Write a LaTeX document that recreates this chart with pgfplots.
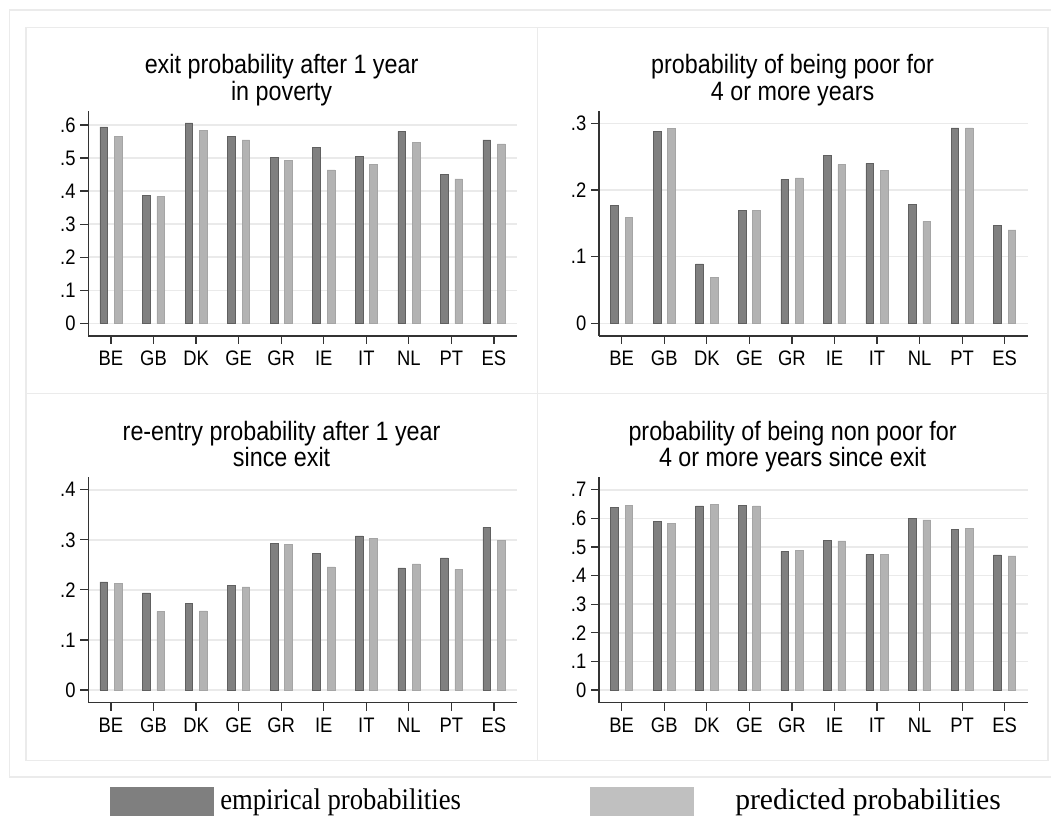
\documentclass[border=0pt]{standalone}
\usepackage{pgfplots}
\pgfplotsset{compat=1.18}
\usepackage{fontspec}
\setmainfont{Liberation Sans}
\newfontfamily\seriffont{Liberation Serif}
\usepackage{graphicx}
\definecolor{darkbar}{HTML}{808080}
\definecolor{darkedge}{HTML}{606060}
\definecolor{lightbar}{HTML}{B3B3B3}
\definecolor{lightedge}{HTML}{A5A5A5}
\definecolor{legdark}{HTML}{7F7F7F}
\definecolor{leglight}{HTML}{C0C0C0}
\definecolor{gridc}{HTML}{EAEAEA}
\definecolor{framec}{HTML}{EBEBEB}
\definecolor{axisc}{HTML}{333333}
\newcommand\vs[1]{\scalebox{1}[1.14]{#1}}
\newcommand\tickfont{\fontsize{13.8}{13.8}\selectfont}
\newcommand\titlefont{\fontsize{17.5}{17.5}\selectfont}

\pgfplotstableread{
x emp pred
0 0.594 0.566
1 0.388 0.384
2 0.606 0.584
3 0.566 0.555
4 0.502 0.494
5 0.533 0.464
6 0.506 0.481
7 0.581 0.548
8 0.450 0.437
9 0.555 0.543
}\tabTL
\pgfplotstableread{
x emp pred
0 0.177 0.159
1 0.288 0.292
2 0.089 0.069
3 0.169 0.169
4 0.216 0.218
5 0.252 0.238
6 0.240 0.229
7 0.178 0.153
8 0.293 0.293
9 0.147 0.140
}\tabTR
\pgfplotstableread{
x emp pred
0 0.216 0.213
1 0.194 0.157
2 0.173 0.158
3 0.209 0.206
4 0.293 0.291
5 0.273 0.246
6 0.308 0.303
7 0.244 0.252
8 0.264 0.241
9 0.325 0.299
}\tabBL
\pgfplotstableread{
x emp pred
0 0.638 0.645
1 0.590 0.583
2 0.644 0.649
3 0.645 0.644
4 0.485 0.488
5 0.523 0.521
6 0.474 0.474
7 0.601 0.595
8 0.561 0.566
9 0.472 0.469
}\tabBR

\pgfplotsset{panel/.style={
  scale only axis, width=321.5pt, height=169pt,
  axis lines=left, axis line style={-, axisc, line width=0.9pt},
  xmin=-0.533, xmax=9.54,
  xtick={0,...,9},
  xticklabels={\vs{BE},\vs{GB},\vs{DK},\vs{GE},\vs{GR},\vs{IE},\vs{IT},\vs{NL},\vs{PT},\vs{ES}},
  tick align=outside, major tick length=6pt,
  tick style={axisc, line width=0.9pt},
  ymajorgrids, grid style={draw=gridc, line width=1.1pt},
  tick label style={font=\tickfont, black},
  x tick label style={text height=11.5pt, text depth=0pt, yshift=-1pt},
  ybar, bar width=0.18,
  anchor=south west,
}}

\begin{document}
\begin{tikzpicture}
\begin{scope}[x=0.75pt,y=-0.75pt]
\useasboundingbox (0,0) rectangle (1051,816);
\fill[white] (0,0) rectangle (1051,816);
% outer frame
\draw[framec, line width=1.1pt] (1060,10) -- (9.3,10) -- (9.3,777) -- (1060,777);
% inner panels
\draw[framec, line width=1.1pt] (26,27.3) rectangle (1048,760.7);
\draw[framec, line width=1.1pt] (537.3,27.3) -- (537.3,760.7);
\draw[framec, line width=1.1pt] (26,393.3) -- (1048,393.3);
% titles
\node[anchor=base, inner sep=0pt, font=\titlefont] at (281.6,74) {\vs{exit probability after 1 year}};
\node[anchor=base, inner sep=0pt, font=\titlefont] at (281.6,100.5) {\vs{in poverty}};
\node[anchor=base, inner sep=0pt, font=\titlefont] at (792.6,74) {\vs{probability of being poor for}};
\node[anchor=base, inner sep=0pt, font=\titlefont] at (792.6,100.5) {\vs{4 or more years}};
\node[anchor=base, inner sep=0pt, font=\titlefont] at (281.6,440.5) {\vs{re-entry probability after 1 year}};
\node[anchor=base, inner sep=0pt, font=\titlefont] at (281.6,467) {\vs{since exit}};
\node[anchor=base, inner sep=0pt, font=\titlefont] at (792.6,440.5) {\vs{probability of being non poor for}};
\node[anchor=base, inner sep=0pt, font=\titlefont] at (792.6,467) {\vs{4 or more years since exit}};
% legend
\fill[legdark] (110,786.7) rectangle (214,820);
\fill[leglight] (590,786.7) rectangle (694,820);
\node[anchor=base west, inner sep=0pt, font=\seriffont\fontsize{20}{20}\selectfont] at (220,809) {\scalebox{1}[1.12]{empirical probabilities}};
\node[anchor=base west, inner sep=0pt, font=\seriffont\fontsize{20}{20}\selectfont] at (735,809) {\scalebox{1.11}[1.12]{predicted probabilities}};
\end{scope}

% top-left
\begin{axis}[panel, at={(66.225pt,-252pt)},
  ymin=-0.0384, ymax=0.6433,
  ytick={0,0.1,0.2,0.3,0.4,0.5,0.6},
  yticklabels={\vs{0},\vs{.1},\vs{.2},\vs{.3},\vs{.4},\vs{.5},\vs{.6}}]
\addplot[fill=darkbar, draw=darkedge, bar shift=-0.17] table[x=x,y=emp] {\tabTL};
\addplot[fill=lightbar, draw=lightedge, bar shift=0.17] table[x=x,y=pred] {\tabTL};
\end{axis}

% top-right
\begin{axis}[panel, at={(449.25pt,-252pt)},
  ymin=-0.019, ymax=0.3189,
  ytick={0,0.1,0.2,0.3},
  yticklabels={\vs{0},\vs{.1},\vs{.2},\vs{.3}}]
\addplot[fill=darkbar, draw=darkedge, bar shift=-0.17] table[x=x,y=emp] {\tabTR};
\addplot[fill=lightbar, draw=lightedge, bar shift=0.17] table[x=x,y=pred] {\tabTR};
\end{axis}

% bottom-left
\begin{axis}[panel, at={(66.225pt,-527.025pt)},
  ymin=-0.02536, ymax=0.4248,
  ytick={0,0.1,0.2,0.3,0.4},
  yticklabels={\vs{0},\vs{.1},\vs{.2},\vs{.3},\vs{.4}}]
\addplot[fill=darkbar, draw=darkedge, bar shift=-0.17] table[x=x,y=emp] {\tabBL};
\addplot[fill=lightbar, draw=lightedge, bar shift=0.17] table[x=x,y=pred] {\tabBL};
\end{axis}

% bottom-right
\begin{axis}[panel, at={(449.25pt,-527.025pt)},
  ymin=-0.0444, ymax=0.7434,
  ytick={0,0.1,0.2,0.3,0.4,0.5,0.6,0.7},
  yticklabels={\vs{0},\vs{.1},\vs{.2},\vs{.3},\vs{.4},\vs{.5},\vs{.6},\vs{.7}}]
\addplot[fill=darkbar, draw=darkedge, bar shift=-0.17] table[x=x,y=emp] {\tabBR};
\addplot[fill=lightbar, draw=lightedge, bar shift=0.17] table[x=x,y=pred] {\tabBR};
\end{axis}
\end{tikzpicture}
\end{document}
